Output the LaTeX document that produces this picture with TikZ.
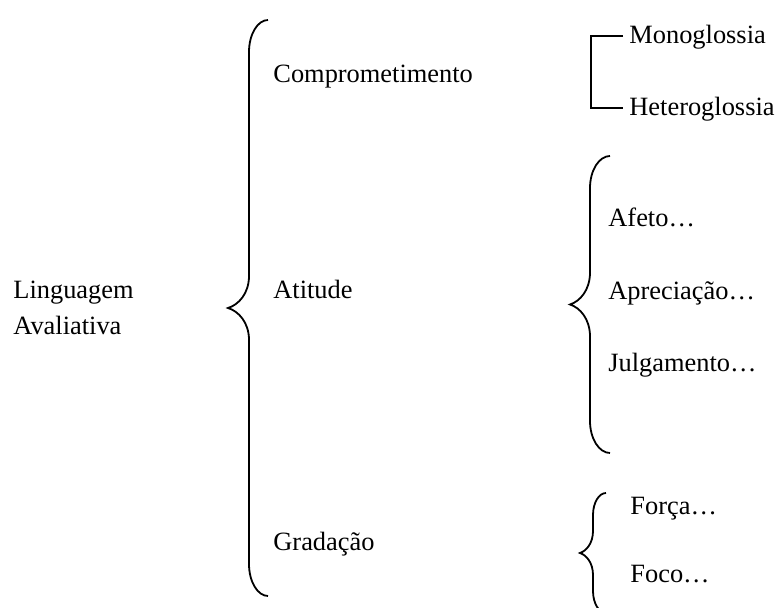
\documentclass[tikz,border=0pt]{standalone}
\usepackage{fontspec}
\setmainfont{Liberation Serif}
\usetikzlibrary{positioning}

% curly brace: end x, spine x, tip x, top y, bottom y, bend
\newcommand{\wordbrace}[6]{%
\draw[bracestroke] (#1,#4) .. controls ({#1-0.55*(#1-#2)},#4) and (#2,{#4+0.45*#6}) .. (#2,{#4+#6})
 -- (#2,{(#4+#5)/2-#6}) .. controls (#2,{(#4+#5)/2-0.45*#6}) and ({#3+0.5*(#2-#3)},{(#4+#5)/2-0.1*#6}) .. (#3,{(#4+#5)/2})
 .. controls ({#3+0.5*(#2-#3)},{(#4+#5)/2+0.1*#6}) and (#2,{(#4+#5)/2+0.45*#6}) .. (#2,{(#4+#5)/2+#6})
 -- (#2,{#5-#6}) .. controls (#2,{#5-0.45*#6}) and ({#1-0.55*(#1-#2)},#5) .. (#1,#5);}

\begin{document}
\begin{tikzpicture}[x=0.5pt,y=-0.5pt,
  lbl/.style={inner sep=0pt,anchor=base west,font=\fontsize{13.2}{16}\selectfont},
  bracestroke/.style={line width=0.9pt},
  bracket/.style={line width=0.9pt}]
\useasboundingbox (0,0) rectangle (776,608);

\node[lbl](ling) at (13,299){Linguagem};
\node[lbl,below=18pt of ling.base west,anchor=base west](aval){Avaliativa};

\node[lbl](comp) at (273,83){Comprometimento};
\node[lbl](atit) at (273,299){Atitude};
\node[lbl](grad) at (273,551){Gradação};

\node[lbl](mono) at (629,44){Monoglossia};
\node[lbl](hetero) at (629,116){Heteroglossia};

\node[lbl](afeto) at (608,227){Afeto…};
\node[lbl](apre) at (608,300){Apreciação…};
\node[lbl](julg) at (608,372){Julgamento…};

\node[lbl](forca) at (630,515){Força…};
\node[lbl](foco) at (630,582){Foco…};

\wordbrace{268}{249}{228}{20}{596}{32}
\wordbrace{610}{590}{570}{156}{453}{32}
\wordbrace{606}{593}{580}{493}{613}{22}

\draw[bracket] ([xshift=-3pt,yshift=4pt]mono.base west) -- ++(-16pt,0) |- ([xshift=-3pt,yshift=4pt]hetero.base west);

\end{tikzpicture}
\end{document}
